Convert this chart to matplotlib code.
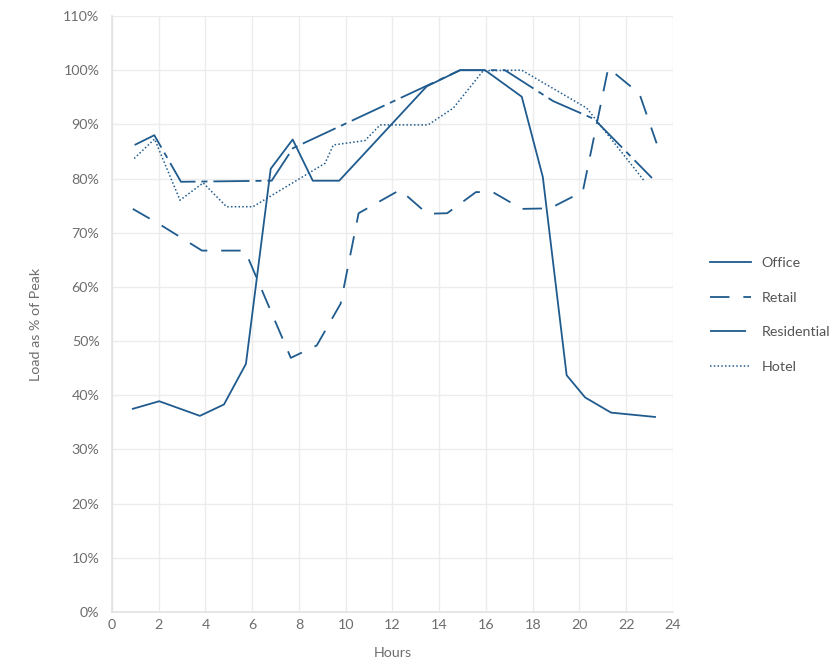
import matplotlib
matplotlib.use("Agg")
import matplotlib.pyplot as plt
from matplotlib.ticker import MultipleLocator, FuncFormatter

# ── data ────────────────────────────────────────────────────────────────────
office_h = [0.89, 2.02, 3.76, 4.79, 5.73, 6.79, 7.73, 8.59, 9.72, 13.46, 14.89,
            15.96, 17.53, 18.43, 19.45, 20.24, 21.35, 23.23]
office = [37.5, 38.9, 36.2, 38.3, 45.8, 81.8, 87.2, 79.6, 79.6, 97.0, 100.0,
          100.0, 95.1, 80.3, 43.7, 39.6, 36.8, 36.0]

retail_h = [0.89, 2.02, 3.85, 5.69, 7.65, 8.76, 9.78, 10.55, 12.32, 13.49,
            14.34, 15.57, 16.29, 17.53, 18.74, 20.14, 21.23, 22.56, 23.3]
retail = [74.4, 71.6, 66.7, 66.7, 46.9, 49.2, 56.9, 73.6, 77.9, 73.5,
          73.6, 77.5, 77.5, 74.4, 74.5, 77.6, 100.4, 95.7, 86.5]

resid_h = [0.97, 1.81, 2.95, 6.83, 7.74, 14.89, 16.81, 18.87, 20.62, 23.1]
resid = [86.2, 88.0, 79.4, 79.6, 85.6, 100.0, 100.0, 94.3, 91.0, 80.1]

hotel_h = [0.95, 1.82, 2.91, 3.9, 4.9, 6.03, 9.11, 9.47, 10.82, 11.47, 13.52,
           14.6, 15.88, 17.53, 20.31, 22.8]
hotel = [83.7, 87.3, 76.0, 79.2, 74.8, 74.8, 82.8, 86.2, 87.0, 89.9, 89.9,
         93.0, 99.9, 100.0, 93.0, 79.4]

# ── style ────────────────────────────────────────────────────────────────────
plt.rcParams["font.family"] = ["Lato", "DejaVu Sans"]
plt.rcParams["lines.scale_dashes"] = False

LINE = "#1f5b8e"
GRID = "#ececec"
TXT = "#6e6e6e"

fig = plt.figure(figsize=(8.4, 6.64), dpi=100)
fig.patch.set_facecolor("white")
ax = fig.add_axes([112 / 840, 1 - 612 / 664, 561 / 840, 596 / 664])

ax.plot(office_h, office, color=LINE, lw=1.3, label="Office")
ax.plot(retail_h, retail, color=LINE, lw=1.3, ls=(0, (14, 10)), label="Retail")
ax.plot(resid_h, resid, color=LINE, lw=1.3, ls=(0, (26, 4.3, 4.3, 4.3)),
        label="Residential")
ax.plot(hotel_h, hotel, color=LINE, lw=1.1, ls=(0, (1.1, 1.6)), label="Hotel")

ax.set_xlim(0, 24)
ax.set_ylim(0, 110)
ax.xaxis.set_major_locator(MultipleLocator(2))
ax.yaxis.set_major_locator(MultipleLocator(10))
ax.yaxis.set_major_formatter(FuncFormatter(lambda v, _: f"{v:.0f}%"))
ax.grid(True, color=GRID, lw=1.0)
ax.set_axisbelow(True)
for s in ["top", "right"]:
    ax.spines[s].set_visible(False)
for s in ["left", "bottom"]:
    ax.spines[s].set_color("#e2e2e2")
    ax.spines[s].set_linewidth(1.2)
ax.tick_params(length=0, labelsize=10.3, colors=TXT)
ax.tick_params(axis="y", pad=9)
ax.tick_params(axis="x", pad=5)

ax.set_xlabel("Hours", fontsize=10.3, color=TXT)
ax.xaxis.set_label_coords(0.5, -0.058)
ax.set_ylabel("Load as % of Peak", fontsize=10.3, color=TXT)
ax.yaxis.set_label_coords(-0.124, 0.482)

leg = fig.legend(loc="center left", bbox_to_anchor=(710 / 840, 1 - 315 / 664),
                 frameon=False, fontsize=10.3, handlelength=2.85, handletextpad=0.75,
                 labelspacing=1.6, borderpad=0, borderaxespad=0)
for t in leg.get_texts():
    t.set_color("#555555")

plt.savefig("out.png", dpi=100, facecolor="white")
